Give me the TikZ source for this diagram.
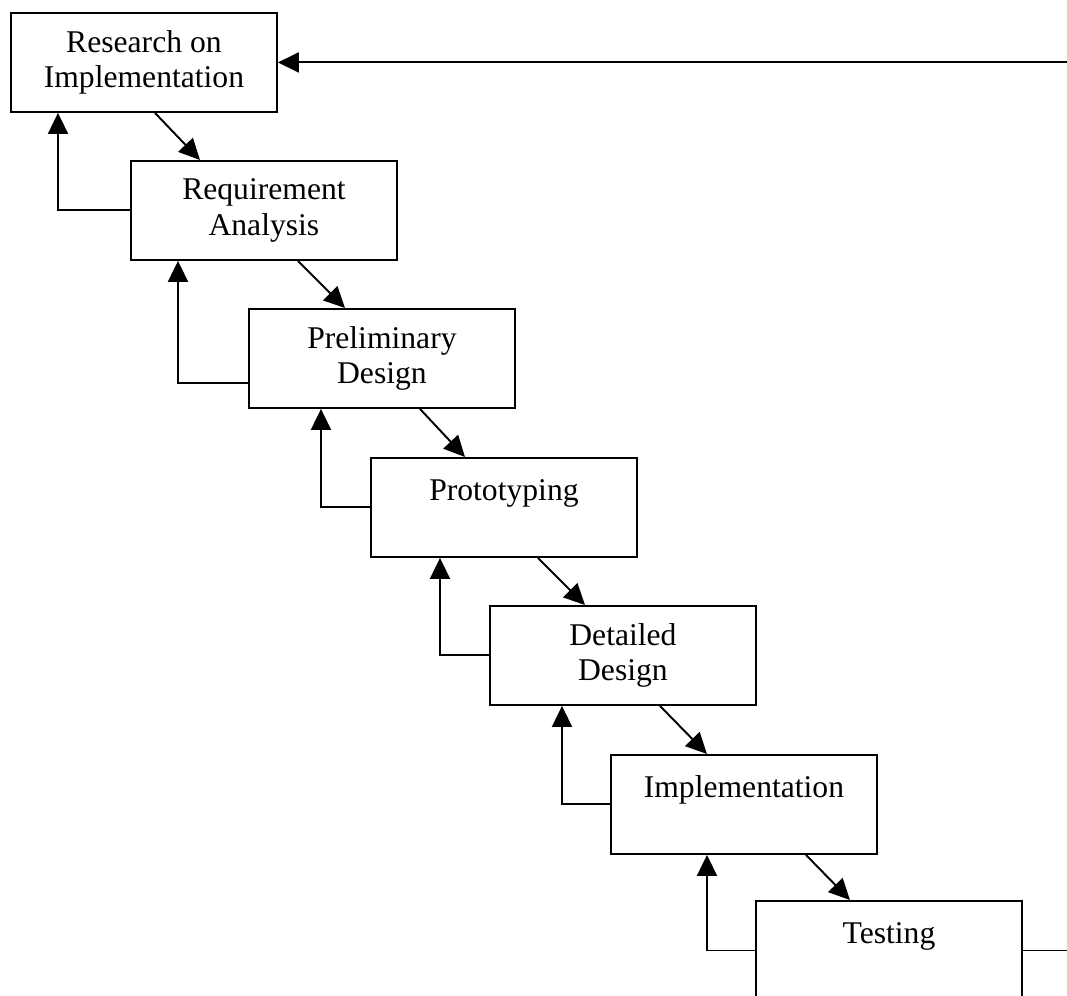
\documentclass[tikz,border=0pt]{standalone}
\usepackage{fontspec}
\setmainfont{Liberation Serif}
\usetikzlibrary{arrows.meta}

\tikzset{
  phase/.style={draw, line width=1.1pt, anchor=north west, align=center,
    minimum width=5.32cm, minimum height=1.98cm, inner sep=0pt,
    font=\fontsize{18}{20}\selectfont},
  go/.style={-{Triangle[length=0.42cm, width=0.4cm]}, line width=1.1pt},
  back/.style={go}
}

\begin{document}
\begin{tikzpicture}[x=0.02cm, y=-0.02cm]
        \clip (0,0) rectangle (1067,996);

        \node[phase] (research) at (10,12)  {Research on\\Implementation};
        \node[phase] (reqs)     at (130,160) {Requirement\\Analysis};
        \node[phase] (prelim)   at (248,308) {Preliminary\\Design};
        \node[phase] (proto)    at (370,457) {Prototyping\\\mbox{}};
        \node[phase] (detail)   at (489,605) {Detailed\\Design};
        \node[phase] (impl)     at (610,754) {Implementation\\\mbox{}};
        \node[phase] (test)     at (755,900) {Testing\\\mbox{}};

        \coordinate (edge) at (1067,0);

        % going down
        \draw[go] ([xshift=2.9cm]research.south west) -- ([xshift=1.4cm]reqs.north west);
        \draw[go] ([xshift=3.36cm]reqs.south west) -- ([xshift=1.94cm]prelim.north west);
        \draw[go] ([xshift=3.44cm]prelim.south west) -- ([xshift=1.9cm]proto.north west);
        \draw[go] ([xshift=3.36cm]proto.south west) -- ([xshift=1.92cm]detail.north west);
        \draw[go] ([xshift=3.42cm]detail.south west) -- ([xshift=1.94cm]impl.north west);
        \draw[go] ([xshift=3.92cm]impl.south west) -- ([xshift=1.9cm]test.north west);

        % going back
        \draw[back] (reqs.west) -| ([xshift=0.96cm]research.south west);
        \draw[back] ([yshift=-0.49cm]prelim.west) -| ([xshift=0.96cm]reqs.south west);
        \draw[back] (proto.west) -| ([xshift=1.46cm]prelim.south west);
        \draw[back] (detail.west) -| ([xshift=1.4cm]proto.south west);
        \draw[back] (impl.west) -| ([xshift=1.46cm]detail.south west);
        \draw[back] (test.west) -| ([xshift=1.94cm]impl.south west);

        \draw[go] (edge |- research.east) -- (research.east);
        \draw[line width=1.1pt] (test.east) -- (edge |- test.east);
\end{tikzpicture}
\end{document}
